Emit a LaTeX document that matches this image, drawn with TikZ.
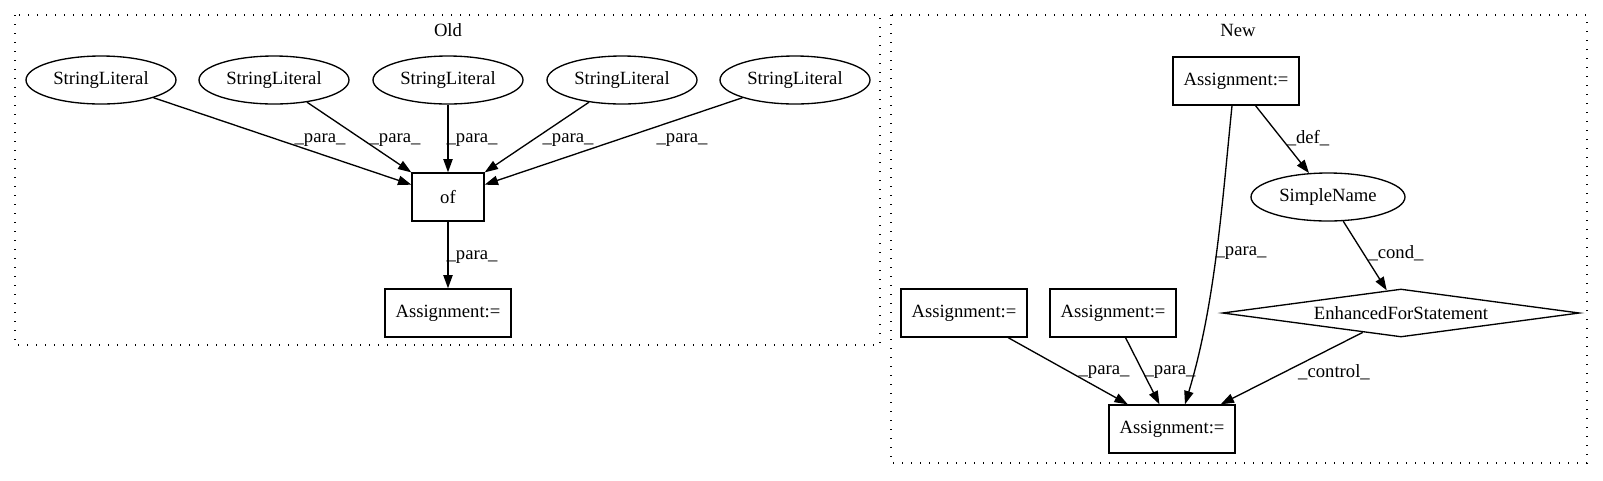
\documentclass[tikz,border=0pt]{standalone}
\usepackage{fontspec}
\setmainfont{Liberation Serif}
\usetikzlibrary{shapes.geometric}
\usetikzlibrary{arrows.meta}

\begin{document}
\begin{tikzpicture}[x=0.75pt, y=-0.75pt, line width=1pt,
    font=\fontsize{14}{16}\selectfont,
    lit/.style={draw, ellipse, minimum width=112.5pt, minimum height=36pt, inner sep=0pt},
    stmt/.style={draw, rectangle, minimum width=94.5pt, minimum height=36pt, inner sep=0pt},
    loopnode/.style={draw, diamond, aspect=7.4, minimum width=267.75pt, minimum height=36pt, inner sep=0pt},
    edge/.style={-{Triangle[length=10pt, width=7pt]}},
    cluster/.style={line width=0.9pt, dash pattern=on 1pt off 5.75pt},
    lbl/.style={inner sep=0pt}]
                      \useasboundingbox (0,0) rectangle (1603,480);

                      %Old
                      \draw[cluster] (15,15) rectangle (880,345);
                      \node (oldtitle) at (448,30) {Old};
                      \foreach \i/\xx in {1/101, 2/274, 3/448, 4/622, 5/795}
                        \node[lit] (sl\i) at (\xx,80) {StringLiteral};
                      \node[stmt, minimum width=54pt] (of) at (448,197) {of};
                      \node[stmt] (oldasg) at (448,313) {Assignment:=};

                      \foreach \i in {1,...,5}
                        \draw[edge] (sl\i) -- (of);
                      \draw[edge] (of) -- (oldasg);
                      \foreach \i/\xx in {1/320, 2/395, 3/472, 4/568, 5/682}
                        \node[lbl] (para\i) at (\xx,140) {\_para\_};
                      \node[lbl] (para6) at (472,257) {\_para\_};

                      %New
                      \draw[cluster] (891,15) rectangle (1587,463);
                      \node (newtitle) at (1238,30) {New};
                      \node[stmt] (newtop) at (1236,81) {Assignment:=};
                      \node[lit, minimum width=115.5pt] (sname) at (1328,197) {SimpleName};
                      \node[loopnode] (efor) at (1401,313) {EnhancedForStatement};
                      \node[stmt] (asga) at (964,313) {Assignment:=};
                      \node[stmt] (asgb) at (1113,313) {Assignment:=};
                      \node[stmt] (newbot) at (1172,429) {Assignment:=};

                      \draw[edge] ([xshift=-3pt]newtop.south) .. controls (1222,205) and (1215,305) .. ([xshift=9.75pt]newbot.north);
                      \draw[edge] (newtop) -- (sname);
                      \draw[edge] (sname) -- (efor);
                      \draw[edge] (efor) -- (newbot);
                      \draw[edge] (asga) -- (newbot);
                      \draw[edge] (asgb) -- (newbot);

                      \node[lbl] (para7) at (1241,253) {\_para\_};
                      \node[lbl] (def) at (1308,138) {\_def\_};
                      \node[lbl] (cond) at (1396,253) {\_cond\_};
                      \node[lbl] (control) at (1334,372) {\_control\_};
                      \node[lbl] (para8) at (1104,372) {\_para\_};
                      \node[lbl] (para9) at (1170,372) {\_para\_};
\end{tikzpicture}
\end{document}
